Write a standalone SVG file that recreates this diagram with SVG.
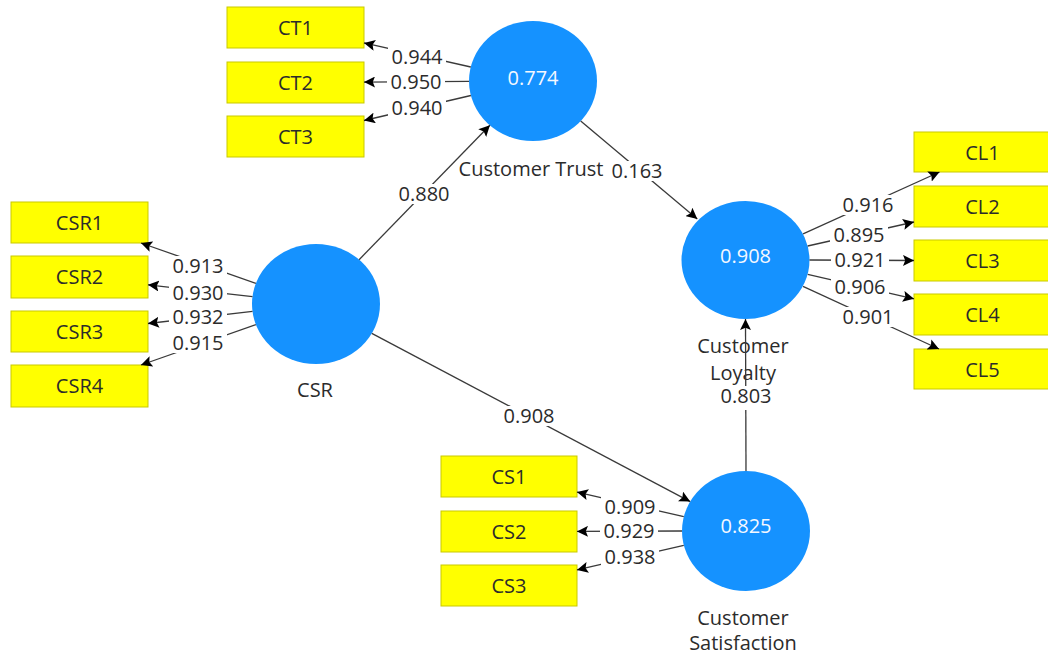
<svg xmlns="http://www.w3.org/2000/svg" width="1048" height="655" viewBox="0 0 1048 655">
<style>
text{font-family:"Open Sans","Noto Sans","DejaVu Sans",sans-serif;font-size:20px;fill:#2b2b2b;text-anchor:middle}
.box{fill:#ffff00;stroke:#c9c900;stroke-width:1}
.lv{fill:#1592ff}
.lvt{fill:#f4f8ff}
.c{stroke:#3a3a3a;stroke-width:1.3;fill:none;marker-end:url(#ah)}
.bg{fill:#fff}
</style>
<defs>
<marker id="ah" viewBox="0 0 10 10" refX="10" refY="5" markerWidth="11" markerHeight="11" markerUnits="userSpaceOnUse" orient="auto">
<path d="M0,0 L10,5 L0,10 L2,5 z" fill="#000"/>
</marker>
</defs>
<rect width="1048" height="655" fill="#fff"/>

<g id="CT1"><rect class="box" x="227" y="7" width="137" height="41"/><text x="295.5" y="35">CT1</text></g>
<g id="CT2"><rect class="box" x="227" y="62" width="137" height="41"/><text x="295.5" y="90">CT2</text></g>
<g id="CT3"><rect class="box" x="227" y="116" width="137" height="41"/><text x="295.5" y="144">CT3</text></g>
<g id="CSR1"><rect class="box" x="11" y="202" width="137" height="41"/><text x="79.5" y="230">CSR1</text></g>
<g id="CSR2"><rect class="box" x="11" y="256" width="137" height="42"/><text x="79.5" y="284">CSR2</text></g>
<g id="CSR3"><rect class="box" x="11" y="311" width="137" height="41"/><text x="79.5" y="339">CSR3</text></g>
<g id="CSR4"><rect class="box" x="11" y="365" width="137" height="42"/><text x="79.5" y="393">CSR4</text></g>
<g id="CL1"><rect class="box" x="914" y="132" width="137" height="40"/><text x="982.5" y="160">CL1</text></g>
<g id="CL2"><rect class="box" x="914" y="186" width="137" height="41"/><text x="982.5" y="214">CL2</text></g>
<g id="CL3"><rect class="box" x="914" y="240" width="137" height="41"/><text x="982.5" y="268">CL3</text></g>
<g id="CL4"><rect class="box" x="914" y="294" width="137" height="41"/><text x="982.5" y="322">CL4</text></g>
<g id="CL5"><rect class="box" x="914" y="349" width="137" height="40"/><text x="982.5" y="377">CL5</text></g>
<g id="CS1"><rect class="box" x="441" y="456" width="136" height="41"/><text x="509" y="484">CS1</text></g>
<g id="CS2"><rect class="box" x="441" y="511" width="136" height="41"/><text x="509" y="539">CS2</text></g>
<g id="CS3"><rect class="box" x="441" y="565" width="136" height="41"/><text x="509" y="593">CS3</text></g>

<g id="CustomerTrust"><ellipse class="lv" cx="533" cy="81" rx="64" ry="60"/><text class="lvt" x="533" y="85">0.774</text><text x="531" y="176">Customer Trust</text></g>
<g id="CSR"><ellipse class="lv" cx="316" cy="304" rx="64" ry="60"/><text x="315" y="397">CSR</text></g>
<g id="CustomerLoyalty"><ellipse class="lv" cx="745.5" cy="260" rx="64" ry="59"/><text class="lvt" x="745.5" y="263">0.908</text><text x="743" y="353">Customer</text><text x="743" y="380">Loyalty</text></g>
<g id="CustomerSatisfaction"><ellipse class="lv" cx="746" cy="531" rx="64" ry="60"/><text class="lvt" x="746" y="533">0.825</text><text x="743" y="625">Customer</text><text x="743" y="650">Satisfaction</text></g>

<g id="connectors">
<path class="c" d="M470.8,67 L364,42.9"/>
<path class="c" d="M469,81.4 L364,82.1"/>
<path class="c" d="M470.9,95.5 L364,120.5"/>
<path class="c" d="M580.7,121 L697.3,219"/>
<path class="c" d="M255.9,283.3 L141,243"/>
<path class="c" d="M252.5,296.7 L148,284.8"/>
<path class="c" d="M252.5,311.4 L148,323.5"/>
<path class="c" d="M255.9,324.7 L141,365"/>
<path class="c" d="M359.1,259.7 L489.9,125.3"/>
<path class="c" d="M371.8,333.4 L690.2,501.6"/>
<path class="c" d="M746,471 L745.5,319"/>
<path class="c" d="M803.1,233.9 L939.5,172"/>
<path class="c" d="M807.7,246 L914,222"/>
<path class="c" d="M809.5,260 L914,260.5"/>
<path class="c" d="M807.7,274.3 L914,298.8"/>
<path class="c" d="M803,286.4 L939,349"/>
<path class="c" d="M683.8,516.7 L577,492.1"/>
<path class="c" d="M682,531 L577,531.4"/>
<path class="c" d="M683.8,545.3 L577,569.9"/>
<g id="label-bg">
<rect class="bg" x="388" y="47" width="58" height="20"/>
<rect class="bg" x="387" y="72" width="58" height="20"/>
<rect class="bg" x="388" y="98" width="58" height="20"/>
<rect class="bg" x="169" y="256" width="58" height="20"/>
<rect class="bg" x="169" y="283" width="58" height="20"/>
<rect class="bg" x="169" y="307" width="58" height="20"/>
<rect class="bg" x="169" y="333" width="58" height="20"/>
<rect class="bg" x="839" y="195" width="58" height="20"/>
<rect class="bg" x="830" y="225" width="58" height="20"/>
<rect class="bg" x="831" y="250" width="58" height="20"/>
<rect class="bg" x="831" y="277" width="58" height="20"/>
<rect class="bg" x="839" y="307" width="58" height="20"/>
<rect class="bg" x="601" y="497" width="58" height="20"/>
<rect class="bg" x="600" y="521" width="58" height="20"/>
<rect class="bg" x="601" y="547" width="58" height="20"/>
<rect class="bg" x="395" y="184" width="58" height="20"/>
<rect class="bg" x="500" y="406" width="58" height="20"/>
<rect class="bg" x="608" y="161" width="58" height="20"/>
<rect class="bg" x="717" y="386" width="58" height="24"/>
</g>
<g id="labels">
<text x="417" y="64">0.944</text>
<text x="416" y="89">0.950</text>
<text x="417" y="115">0.940</text>
<text x="198" y="273">0.913</text>
<text x="198" y="300">0.930</text>
<text x="198" y="324">0.932</text>
<text x="198" y="350">0.915</text>
<text x="868" y="212">0.916</text>
<text x="859" y="242">0.895</text>
<text x="860" y="267">0.921</text>
<text x="860" y="294">0.906</text>
<text x="868" y="324">0.901</text>
<text x="630" y="514">0.909</text>
<text x="629" y="538">0.929</text>
<text x="630" y="564">0.938</text>
<text x="424" y="201">0.880</text>
<text x="529" y="423">0.908</text>
<text x="637" y="178">0.163</text>
<text x="746" y="403">0.803</text>
</g>
</g>
</svg>
